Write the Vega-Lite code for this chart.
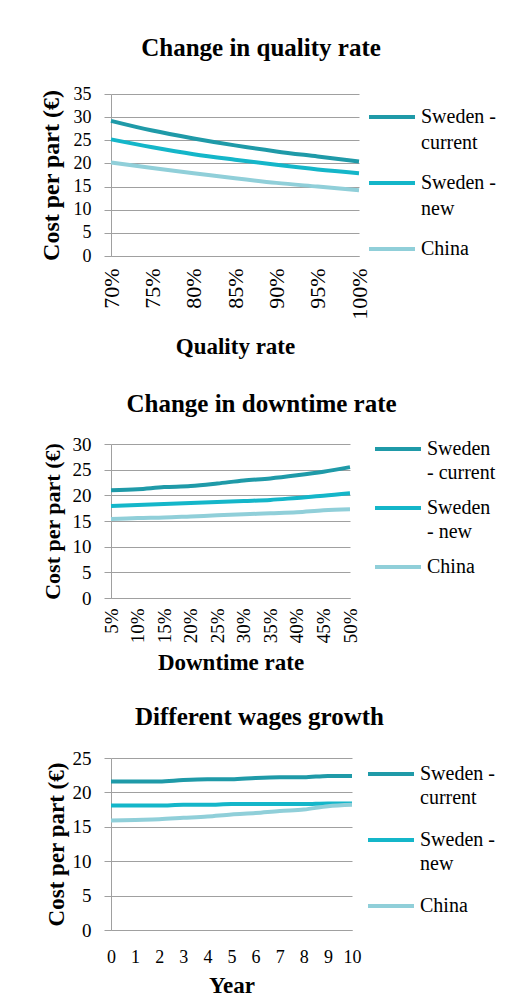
{
  "$schema": "https://vega.github.io/schema/vega-lite/v6.json",
  "background": "white",
  "padding": {"left": 39, "top": 36, "right": 5, "bottom": 5},
  "datasets": {
    "q": [
      {"rate": 0.70, "series": "Sweden - current", "cost": 29.2},
      {"rate": 0.75, "series": "Sweden - current", "cost": 27.1},
      {"rate": 0.80, "series": "Sweden - current", "cost": 25.4},
      {"rate": 0.85, "series": "Sweden - current", "cost": 23.9},
      {"rate": 0.90, "series": "Sweden - current", "cost": 22.6},
      {"rate": 0.95, "series": "Sweden - current", "cost": 21.5},
      {"rate": 1.00, "series": "Sweden - current", "cost": 20.4},
      {"rate": 0.70, "series": "Sweden - new", "cost": 25.2},
      {"rate": 0.75, "series": "Sweden - new", "cost": 23.5},
      {"rate": 0.80, "series": "Sweden - new", "cost": 22.0},
      {"rate": 0.85, "series": "Sweden - new", "cost": 20.8},
      {"rate": 0.90, "series": "Sweden - new", "cost": 19.7},
      {"rate": 0.95, "series": "Sweden - new", "cost": 18.7},
      {"rate": 1.00, "series": "Sweden - new", "cost": 17.9},
      {"rate": 0.70, "series": "China", "cost": 20.2},
      {"rate": 0.75, "series": "China", "cost": 19.0},
      {"rate": 0.80, "series": "China", "cost": 17.9},
      {"rate": 0.85, "series": "China", "cost": 16.8},
      {"rate": 0.90, "series": "China", "cost": 15.8},
      {"rate": 0.95, "series": "China", "cost": 15.0},
      {"rate": 1.00, "series": "China", "cost": 14.2}
    ],
    "d": [
      {"rate": 0.05, "series": "Sweden - current", "cost": 21.0},
      {"rate": 0.10, "series": "Sweden - current", "cost": 21.2},
      {"rate": 0.15, "series": "Sweden - current", "cost": 21.6},
      {"rate": 0.20, "series": "Sweden - current", "cost": 21.8},
      {"rate": 0.25, "series": "Sweden - current", "cost": 22.3},
      {"rate": 0.30, "series": "Sweden - current", "cost": 22.9},
      {"rate": 0.35, "series": "Sweden - current", "cost": 23.3},
      {"rate": 0.40, "series": "Sweden - current", "cost": 23.9},
      {"rate": 0.45, "series": "Sweden - current", "cost": 24.6},
      {"rate": 0.50, "series": "Sweden - current", "cost": 25.5},
      {"rate": 0.05, "series": "Sweden - new", "cost": 17.9},
      {"rate": 0.10, "series": "Sweden - new", "cost": 18.1},
      {"rate": 0.15, "series": "Sweden - new", "cost": 18.3},
      {"rate": 0.20, "series": "Sweden - new", "cost": 18.5},
      {"rate": 0.25, "series": "Sweden - new", "cost": 18.7},
      {"rate": 0.30, "series": "Sweden - new", "cost": 18.9},
      {"rate": 0.35, "series": "Sweden - new", "cost": 19.1},
      {"rate": 0.40, "series": "Sweden - new", "cost": 19.5},
      {"rate": 0.45, "series": "Sweden - new", "cost": 19.9},
      {"rate": 0.50, "series": "Sweden - new", "cost": 20.4},
      {"rate": 0.05, "series": "China", "cost": 15.4},
      {"rate": 0.10, "series": "China", "cost": 15.6},
      {"rate": 0.15, "series": "China", "cost": 15.7},
      {"rate": 0.20, "series": "China", "cost": 15.9},
      {"rate": 0.25, "series": "China", "cost": 16.1},
      {"rate": 0.30, "series": "China", "cost": 16.3},
      {"rate": 0.35, "series": "China", "cost": 16.5},
      {"rate": 0.40, "series": "China", "cost": 16.7},
      {"rate": 0.45, "series": "China", "cost": 17.1},
      {"rate": 0.50, "series": "China", "cost": 17.3}
    ],
    "w": [
      {"year": 0, "series": "Sweden - current", "cost": 21.6},
      {"year": 1, "series": "Sweden - current", "cost": 21.6},
      {"year": 2, "series": "Sweden - current", "cost": 21.6},
      {"year": 3, "series": "Sweden - current", "cost": 21.8},
      {"year": 4, "series": "Sweden - current", "cost": 21.9},
      {"year": 5, "series": "Sweden - current", "cost": 21.9},
      {"year": 6, "series": "Sweden - current", "cost": 22.1},
      {"year": 7, "series": "Sweden - current", "cost": 22.2},
      {"year": 8, "series": "Sweden - current", "cost": 22.2},
      {"year": 9, "series": "Sweden - current", "cost": 22.4},
      {"year": 10, "series": "Sweden - current", "cost": 22.4},
      {"year": 0, "series": "Sweden - new", "cost": 18.1},
      {"year": 1, "series": "Sweden - new", "cost": 18.1},
      {"year": 2, "series": "Sweden - new", "cost": 18.1},
      {"year": 3, "series": "Sweden - new", "cost": 18.2},
      {"year": 4, "series": "Sweden - new", "cost": 18.2},
      {"year": 5, "series": "Sweden - new", "cost": 18.3},
      {"year": 6, "series": "Sweden - new", "cost": 18.3},
      {"year": 7, "series": "Sweden - new", "cost": 18.3},
      {"year": 8, "series": "Sweden - new", "cost": 18.3},
      {"year": 9, "series": "Sweden - new", "cost": 18.4},
      {"year": 10, "series": "Sweden - new", "cost": 18.4},
      {"year": 0, "series": "China", "cost": 15.9},
      {"year": 1, "series": "China", "cost": 16.0},
      {"year": 2, "series": "China", "cost": 16.1},
      {"year": 3, "series": "China", "cost": 16.3},
      {"year": 4, "series": "China", "cost": 16.5},
      {"year": 5, "series": "China", "cost": 16.8},
      {"year": 6, "series": "China", "cost": 17.0},
      {"year": 7, "series": "China", "cost": 17.3},
      {"year": 8, "series": "China", "cost": 17.5},
      {"year": 9, "series": "China", "cost": 18.0},
      {"year": 10, "series": "China", "cost": 18.2}
    ]
  },
  "spacing": 188,
  "bounds": "flush",
  "resolve": {"scale": {"color": "independent"}, "legend": {"color": "independent"}},
  "vconcat": [
    {
      "width": 248,
      "height": 162,
      "data": {"name": "q"},
      "title": {"text": "Change in quality rate", "dx": 26, "offset": 24},
      "mark": {"type": "line", "strokeWidth": 4, "interpolate": "monotone"},
      "encoding": {
        "x": {
          "field": "rate", "type": "quantitative",
          "scale": {"domain": [0.7, 1.0], "nice": false, "zero": false},
          "axis": {"values": [0.7, 0.75, 0.8, 0.85, 0.9, 0.95, 1.0], "format": ".0%", "labelAngle": -90, "labelFontSize": 22, "labelPadding": 12, "title": "Quality rate", "titlePadding": 16}
        },
        "y": {
          "field": "cost", "type": "quantitative",
          "scale": {"domain": [0, 35], "nice": false},
          "axis": {"values": [0, 5, 10, 15, 20, 25, 30, 35], "labelFontSize": 18, "title": "Cost per part (€)", "titleFontSize": 24, "titlePadding": 10}
        },
        "color": {
          "field": "series", "type": "nominal",
          "scale": {"domain": ["Sweden - current", "Sweden - new", "China"], "range": ["#1f9aa8", "#14b6c9", "#90cfd9"]},
          "legend": {"legendX": 256, "legendY": -2, "rowPadding": 5, "encode": {"labels": {"update": {"lineHeight": {"value": 26}}}}, "labelExpr": "datum.label == 'Sweden - current' ? ['Sweden -', 'current'] : datum.label == 'Sweden - new' ? ['Sweden -', 'new'] : datum.label"}
        }
      }
    },
    {
      "spacing": 160,
      "bounds": "flush",
      "resolve": {"scale": {"color": "independent"}, "legend": {"color": "independent"}},
      "vconcat": [
        {
          "width": 239,
          "height": 154,
          "data": {"name": "d"},
          "title": {"text": "Change in downtime rate", "dx": 31, "offset": 7},
          "mark": {"type": "line", "strokeWidth": 4, "interpolate": "monotone"},
          "encoding": {
            "x": {
              "field": "rate", "type": "quantitative",
              "scale": {"domain": [0.05, 0.5], "nice": false, "zero": false},
              "axis": {"values": [0.05, 0.1, 0.15, 0.2, 0.25, 0.3, 0.35, 0.4, 0.45, 0.5], "format": ".0%", "labelAngle": -90, "labelFontSize": 19, "labelPadding": 10, "title": "Downtime rate", "titlePadding": 9}
            },
            "y": {
              "field": "cost", "type": "quantitative",
              "scale": {"domain": [0, 30], "nice": false},
              "axis": {"values": [0, 5, 10, 15, 20, 25, 30], "labelFontSize": 19, "title": "Cost per part (€)", "titleFontSize": 22, "titlePadding": 8}
            },
            "color": {
              "field": "series", "type": "nominal",
              "scale": {"domain": ["Sweden - current", "Sweden - new", "China"], "range": ["#1f9aa8", "#14b6c9", "#90cfd9"]},
              "legend": {"legendX": 262, "legendY": -20, "rowPadding": -1, "encode": {"labels": {"update": {"lineHeight": {"value": 24}}}}, "labelExpr": "datum.label == 'Sweden - current' ? ['Sweden', '- current'] : datum.label == 'Sweden - new' ? ['Sweden', '- new'] : datum.label"}
            }
          }
        },
        {
          "width": 241,
          "height": 172,
          "data": {"name": "w"},
          "title": {"text": "Different wages growth", "dx": 28, "offset": 19},
          "mark": {"type": "line", "strokeWidth": 4, "interpolate": "monotone"},
          "encoding": {
            "x": {
              "field": "year", "type": "quantitative",
              "scale": {"domain": [0, 10], "nice": false},
              "axis": {"values": [0, 1, 2, 3, 4, 5, 6, 7, 8, 9, 10], "format": "d", "labelAngle": 0, "labelFontSize": 18, "labelPadding": 18, "title": "Year", "titlePadding": 8}
            },
            "y": {
              "field": "cost", "type": "quantitative",
              "scale": {"domain": [0, 25], "nice": false},
              "axis": {"values": [0, 5, 10, 15, 20, 25], "labelFontSize": 19, "title": "Cost per part (€)", "titleFontSize": 23, "titlePadding": 4}
            },
            "color": {
              "field": "series", "type": "nominal",
              "scale": {"domain": ["Sweden - current", "Sweden - new", "China"], "range": ["#1f9aa8", "#14b6c9", "#90cfd9"]},
              "legend": {"legendX": 255, "legendY": -9, "rowPadding": 7, "encode": {"labels": {"update": {"lineHeight": {"value": 24}}}}, "labelExpr": "datum.label == 'Sweden - current' ? ['Sweden -', 'current'] : datum.label == 'Sweden - new' ? ['Sweden -', 'new'] : datum.label"}
            }
          }
        }
      ]
    }
  ],
  "config": {
    "font": "serif",
    "view": {"stroke": null},
    "title": {"font": "Liberation Serif", "fontSize": 25, "fontWeight": "bold", "color": "#000", "anchor": "middle", "frame": "group"},
    "axis": {
      "labelFont": "serif", "titleFont": "Liberation Serif", "titleFontWeight": "bold", "titleFontSize": 23,
      "labelColor": "#000", "titleColor": "#000",
      "gridColor": "#a0a0a0", "domainColor": "#a0a0a0", "tickColor": "#a0a0a0"
    },
    "axisX": {"grid": false, "ticks": false, "tickSize": 0, "labelFlush": false, "labelOverlap": false, "domain": true},
    "axisY": {"grid": true, "tickSize": 7, "labelPadding": 13, "labelOverlap": false},
    "legend": {
      "orient": "none", "title": null, "symbolType": "stroke", "symbolSize": 2116, "symbolStrokeWidth": 4,
      "labelFont": "serif", "labelFontSize": 20, "labelColor": "#000", "labelOffset": 4,
      "labelLimit": 200, "padding": 0
    }
  }
}
